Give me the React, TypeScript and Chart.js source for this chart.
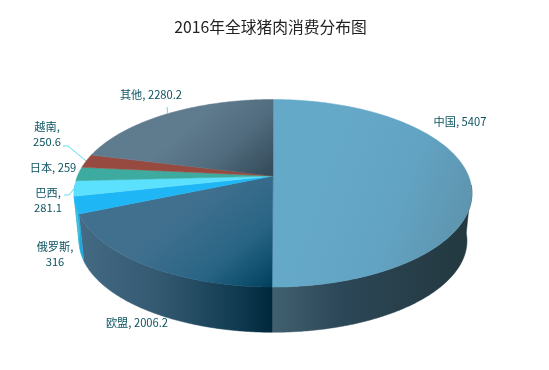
import React, { useEffect, useRef } from "react";
import { Chart, registerables } from "chart.js";

Chart.register(...registerables);

const chartTitle = "2016年全球猪肉消费分布图";
const categories = ["中国", "欧盟", "俄罗斯", "巴西", "日本", "越南", "其他"];
const consumption = [5407, 2006.2, 316, 281.1, 259, 250.6, 2280.2];

// Label layout, separate from the data: line breaks, centre of the text and leader elbow
const labelLayout = [
  { split: false, x: 460, y: 122 },
  { split: false, x: 137, y: 323 },
  { split: true, x: 55, y: 254 },
  { split: true, x: 48, y: 200 },
  { split: false, x: 53, y: 168 },
  { split: true, x: 47, y: 134.5 },
  { split: false, x: 151, y: 95 },
];
const leaders: (null | { pts: [number, number][] })[] = [
  null,
  null,
  null,
  { pts: [[64, 195], [69, 195]] },
  null,
  { pts: [[63, 146], [68, 146]] },
  { pts: [[167, 107]] },
];

// Styles for the perspective pie
type Stop = [number, string];
type Grad = { x0: number; y0: number; x1: number; y1: number; stops: Stop[] };
const topStyles: Grad[] = [
  { x0: 310, y0: 190, x1: 460, y1: 245, stops: [[0, "#65a9c9"], [0.55, "#62a3c3"], [1, "#5e94ad"]] },
  { x0: 190, y0: 205, x1: 262, y1: 292, stops: [[0, "#41708f"], [0.55, "#2a6585"], [0.85, "#0f4f6e"], [1, "#03405c"]] },
  { x0: 0, y0: 0, x1: 0, y1: 1, stops: [[0, "#1fb6f6"], [1, "#1fb6f6"]] },
  { x0: 0, y0: 0, x1: 0, y1: 1, stops: [[0, "#5be0fd"], [1, "#5be0fd"]] },
  { x0: 0, y0: 0, x1: 0, y1: 1, stops: [[0, "#3dab9f"], [1, "#3dab9f"]] },
  { x0: 0, y0: 0, x1: 0, y1: 1, stops: [[0, "#974a3f"], [1, "#974a3f"]] },
  { x0: 200, y0: 115, x1: 258, y1: 180, stops: [[0, "#5f7b8e"], [0.5, "#516c7e"], [1, "#364d5c"]] },
];
const sideStyles: Grad[] = [
  { x0: 273, y0: 0, x1: 470, y1: 0, stops: [[0, "#41606f"], [0.35, "#2c4757"], [1, "#23383f"]] },
  { x0: 80, y0: 0, x1: 273, y1: 0, stops: [[0, "#446a84"], [0.4, "#345a72"], [0.8, "#123c52"], [1, "#00273b"]] },
  { x0: 0, y0: 0, x1: 0, y1: 1, stops: [[0, "#1ea8de"], [1, "#1ea8de"]] },
  { x0: 0, y0: 0, x1: 0, y1: 1, stops: [[0, "#48c0dc"], [1, "#48c0dc"]] },
  { x0: 0, y0: 0, x1: 0, y1: 1, stops: [[0, "#2f8a80"], [1, "#2f8a80"]] },
  { x0: 0, y0: 0, x1: 0, y1: 1, stops: [[0, "#703630"], [1, "#703630"]] },
  { x0: 0, y0: 0, x1: 0, y1: 1, stops: [[0, "#3d5564"], [1, "#3d5564"]] },
];

const K = 0.184; // perspective strength
const RX = 1.413; // horizontal radius / arc radius
const RY = 0.6546; // vertical radius / arc radius
const DEPTH = 0.347; // drop of the lower face / arc radius
const SHRINK = 0.975; // lower face scale
const PIE_SHIFT_X = 2.5; // the title sits slightly left of the pie's centre
const SIDE_FROM = (5.7 * Math.PI) / 180; // sides only exist on the viewer-facing half
const SIDE_TO = (174.3 * Math.PI) / 180;

function project(el: any, angle: number, level: number): [number, number] {
  const t = angle + Math.PI / 2;
  const u = Math.sin(t);
  const v = -Math.cos(t);
  const w = 1 - K * v;
  const r = el.outerRadius;
  const s = level ? SHRINK : 1;
  return [el.x + PIE_SHIFT_X + (s * RX * r * u) / w, el.y + (level ? DEPTH * r : 0) + (s * RY * r * v) / w];
}

function arcPoints(el: any, level: number, a: number, b: number, reverse = false) {
  const n = Math.max(4, Math.ceil((b - a) / 0.01));
  const pts: [number, number][] = [];
  for (let i = 0; i <= n; i++) {
    const q = reverse ? 1 - i / n : i / n;
    pts.push(project(el, a + (b - a) * q, level));
  }
  return pts;
}

function fillOf(ctx: CanvasRenderingContext2D, g: Grad) {
  const lg = ctx.createLinearGradient(g.x0, g.y0, g.x1, g.y1);
  g.stops.forEach(([o, c]) => lg.addColorStop(o, c));
  return lg;
}

function trace(ctx: CanvasRenderingContext2D, pts: [number, number][]) {
  ctx.beginPath();
  pts.forEach(([x, y], i) => (i ? ctx.lineTo(x, y) : ctx.moveTo(x, y)));
  ctx.closePath();
}

const perspectivePie = {
  id: "perspectivePie",
  beforeDatasetDraw(chart: any, args: any) {
    const ctx: CanvasRenderingContext2D = chart.ctx;
    const arcs = args.meta.data;
    ctx.save();
    arcs.forEach((el: any, i: number) => {
      // clockwise angle from the right-hand side of the pie
      const a = Math.max(el.startAngle, SIDE_FROM);
      const b = Math.min(el.endAngle, SIDE_TO);
      if (b <= a) return;
      const pts = [...arcPoints(el, 0, a, b), ...arcPoints(el, 1, a, b, true)];
      trace(ctx, pts);
      const f = fillOf(ctx, sideStyles[i]);
      ctx.fillStyle = f;
      ctx.strokeStyle = f;
      ctx.lineWidth = 0.5;
      ctx.fill();
      ctx.stroke();
    });
    arcs.forEach((el: any, i: number) => {
      const pts: [number, number][] = [[el.x + PIE_SHIFT_X, el.y], ...arcPoints(el, 0, el.startAngle, el.endAngle)];
      trace(ctx, pts);
      const f = fillOf(ctx, topStyles[i]);
      ctx.fillStyle = f;
      ctx.strokeStyle = f;
      ctx.lineWidth = 0.5;
      ctx.fill();
      ctx.stroke();
    });
    ctx.restore();
    return false;
  },
  afterDatasetsDraw(chart: any) {
    const ctx: CanvasRenderingContext2D = chart.ctx;
    const arcs = chart.getDatasetMeta(0).data;
    ctx.save();
    ctx.font = '11.2px "Noto Sans CJK SC", sans-serif';
    ctx.textAlign = "center";
    ctx.textBaseline = "middle";
    categories.forEach((name, i) => {
      const el = arcs[i];
      const lay = labelLayout[i];
      const leader = leaders[i];
      if (leader) {
        const tip = project(el, (el.startAngle + el.endAngle) / 2, 0);
        ctx.beginPath();
        leader.pts.forEach(([x, y], j) => (j ? ctx.lineTo(x, y) : ctx.moveTo(x, y)));
        ctx.lineTo(tip[0], tip[1]);
        ctx.strokeStyle = "#5cdcec";
        ctx.lineWidth = 1;
        ctx.stroke();
      }
      ctx.fillStyle = "#0d5361";
      if (lay.split) {
        ctx.fillText(name + ",", lay.x, lay.y - 7.5);
        ctx.fillText(String(consumption[i]), lay.x, lay.y + 7.5);
      } else {
        ctx.fillText(name + ", " + consumption[i], lay.x, lay.y);
      }
    });
    ctx.restore();
  },
};

export default function App() {
  const ref = useRef<HTMLCanvasElement>(null);
  useEffect(() => {
    document.body.style.margin = "0";
    const chart = new Chart(ref.current as HTMLCanvasElement, {
      type: "pie",
      data: {
        labels: categories,
        datasets: [{ data: consumption, borderWidth: 0 }],
      },
      options: {
        animation: false,
        responsive: false,
        layout: { padding: { top: 0, bottom: 55.6, left: 0, right: 8 } },
        plugins: {
          legend: { display: false },
          tooltip: { enabled: false },
          title: {
            display: true,
            text: chartTitle,
            color: "#222222",
            font: { family: '"Noto Sans CJK SC", sans-serif', size: 15.75, weight: "normal" },
            padding: { top: 17.5, bottom: 1.2 },
          },
        },
      },
      plugins: [perspectivePie],
    } as any);
    return () => chart.destroy();
  }, []);
  return <canvas ref={ref} width={549} height={370} style={{ display: "block", background: "#ffffff" }} />;
}
